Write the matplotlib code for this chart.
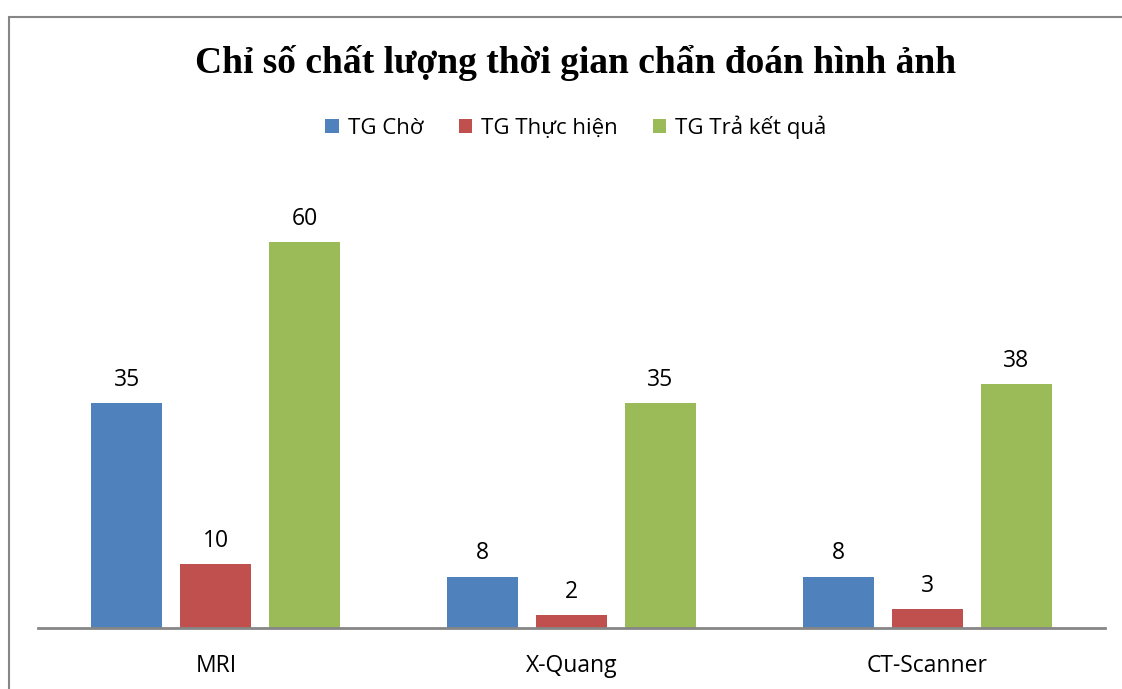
import matplotlib.pyplot as plt
import matplotlib.patches as mpatches
import numpy as np

categories = ['MRI', 'X-Quang', 'CT-Scanner']
series_names = ['TG Chờ', 'TG Thực hiện', 'TG Trả kết quả']
tg_cho = [35, 8, 8]
tg_thuc_hien = [10, 2, 3]
tg_tra_ket_qua = [60, 35, 38]
colors = ['#4F81BD', '#C0504D', '#9BBB59']

plt.rcParams['font.family'] = ['Open Sans', 'DejaVu Sans']

fig = plt.figure(figsize=(11.22, 6.89), dpi=100)
ax = fig.add_axes([38 / 1122, 1 - 628 / 689, 1067 / 1122, 450 / 689])

# chart frame (right and bottom edges fall outside the picture)
frame = mpatches.Rectangle((8.5 / 1122, -0.1), 1.2, 1 - 17.5 / 689 + 0.1,
                           transform=fig.transFigure, fill=False,
                           edgecolor='#868686', linewidth=1.5, clip_on=False)
fig.patches.append(frame)

x = np.arange(len(categories))
width = 0.2
offsets = [-0.25, 0, 0.25]
handles = []
for vals, off, col, name in zip([tg_cho, tg_thuc_hien, tg_tra_ket_qua], offsets, colors, series_names):
    bars = ax.bar(x + off, vals, width, color=col, label=name, zorder=2)
    handles.append(bars)
    for b, v in zip(bars, vals):
        ax.text(b.get_x() + b.get_width() / 2, v + 3.6, str(v),
                ha='center', va='center', fontsize=16.5)

ax.set_xlim(-0.5, 2.5)
ax.set_ylim(0, 70)
ax.set_xticks(x)
ax.set_xticklabels(categories, fontsize=16.5)
ax.tick_params(axis='x', length=0, pad=19)
ax.set_yticks([])
for s in ['top', 'right', 'left']:
    ax.spines[s].set_visible(False)
ax.spines['bottom'].set_color('#868686')
ax.spines['bottom'].set_linewidth(2)

fig.text(576 / 1122, 1 - 63 / 689, 'Chỉ số chất lượng thời gian chẩn đoán hình ảnh',
         ha='center', va='center', fontsize=27, fontweight='bold',
         family=['Liberation Serif', 'DejaVu Serif'])

fig.legend(handles=handles, loc='center', bbox_to_anchor=(576 / 1122, 1 - 127 / 689),
           ncol=3, frameon=False, fontsize=16, handlelength=0.6, handleheight=0.6,
           handletextpad=0.4, columnspacing=1.6)

plt.savefig('out.png', dpi=100)
